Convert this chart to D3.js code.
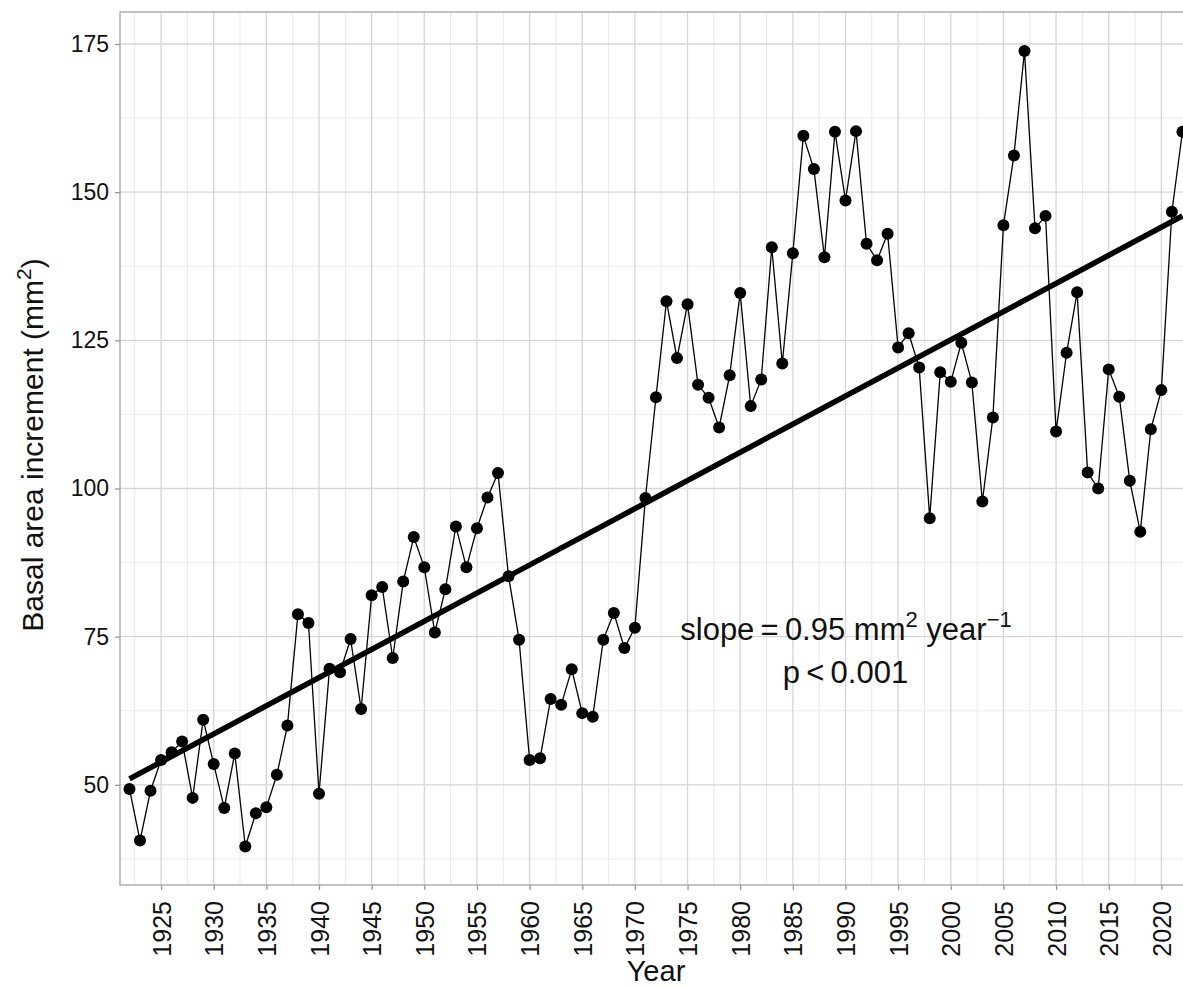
<!DOCTYPE html>
<html>
<head>
<meta charset="utf-8">
<script src="https://cdn.jsdelivr.net/npm/d3@7"></script>
<style>
  body { margin: 0; background: #fff; }
  svg { display: block; font-family: "Liberation Sans", Arial, sans-serif; }
</style>
</head>
<body>
<div id="chart"></div>
<script>
var years = d3.range(1922, 2023);

var bai = [
  49.3, 40.6, 49.0, 54.2, 55.5, 57.3, 47.8, 61.0, 53.5, 46.1,   // 1922-1931
  55.3, 39.6, 45.2, 46.2, 51.7, 60.0, 78.8, 77.3, 48.5, 69.6,   // 1932-1941
  69.0, 74.6, 62.8, 82.0, 83.4, 71.4, 84.3, 91.8, 86.7, 75.7,   // 1942-1951
  83.0, 93.6, 86.7, 93.3, 98.5, 102.6, 85.2, 74.5, 54.2, 54.5,  // 1952-1961
  64.5, 63.5, 69.5, 62.1, 61.5, 74.5, 79.0, 73.1, 76.5, 98.4,   // 1962-1971
  115.4, 131.6, 122.0, 131.1, 117.5, 115.3, 110.3, 119.1, 133.0, 113.9, // 1972-1981
  118.4, 140.7, 121.1, 139.7, 159.5, 153.9, 139.0, 160.2, 148.6, 160.3, // 1982-1991
  141.3, 138.5, 143.0, 123.8, 126.2, 120.4, 95.0, 119.6, 118.0, 124.6,  // 1992-2001
  117.9, 97.8, 112.0, 144.4, 156.2, 173.8, 143.9, 146.0, 109.6, 122.9,  // 2002-2011
  133.1, 102.7, 100.0, 120.1, 115.5, 101.3, 92.7, 110.0, 116.6, 146.7,  // 2012-2021
  160.2                                                                 // 2022
];

// fitted trend (slope 0.95 per year)
var trendYears = [1922, 2022];
var trendValues = [51, 146];

var xTicks = d3.range(1925, 2021, 5);
var yTicks = [50, 75, 100, 125, 150, 175];

var data = years.map(function(yr, i) { return {year: yr, value: bai[i]}; });

var margin = {top: 12, right: 0, bottom: 103, left: 120},
    svgWidth = 1183, svgHeight = 988,
    width = 1074,
    height = svgHeight - margin.top - margin.bottom;

var x = d3.scaleLinear().domain([1921.1, 2023.1]).range([0, width]);
var y = d3.scaleLinear().domain([33.1, 180.4]).range([height, 0]);

var svg = d3.select("#chart").append("svg")
    .attr("width", svgWidth)
    .attr("height", svgHeight);

var g = svg.append("g")
    .attr("transform", "translate(" + margin.left + "," + margin.top + ")");

// minor grid
var xMinor = xTicks.map(function(t) { return t - 2.5; }).concat([2022.5]);
var yMinor = [37.5, 62.5, 87.5, 112.5, 137.5, 162.5];

g.selectAll(".xminor").data(xMinor).enter().append("line")
    .attr("x1", function(d) { return x(d); })
    .attr("x2", function(d) { return x(d); })
    .attr("y1", 0).attr("y2", height)
    .attr("stroke", "#e8e8e8").attr("stroke-width", 1);

g.selectAll(".yminor").data(yMinor).enter().append("line")
    .attr("x1", 0).attr("x2", width)
    .attr("y1", function(d) { return y(d); })
    .attr("y2", function(d) { return y(d); })
    .attr("stroke", "#ececec").attr("stroke-width", 1);

// major grid
g.selectAll(".xmajor").data(xTicks).enter().append("line")
    .attr("x1", function(d) { return x(d); })
    .attr("x2", function(d) { return x(d); })
    .attr("y1", 0).attr("y2", height)
    .attr("stroke", "#d6d6d6").attr("stroke-width", 1.3);

g.selectAll(".ymajor").data(yTicks).enter().append("line")
    .attr("x1", 0).attr("x2", width)
    .attr("y1", function(d) { return y(d); })
    .attr("y2", function(d) { return y(d); })
    .attr("stroke", "#d6d6d6").attr("stroke-width", 1.3);

// panel border
g.append("rect")
    .attr("x", 0).attr("y", 0)
    .attr("width", width).attr("height", height)
    .attr("fill", "none")
    .attr("stroke", "#a8a8a8")
    .attr("stroke-width", 1.4);

// axes
var xAxis = d3.axisBottom(x).tickValues(xTicks).tickSize(5).tickPadding(4).tickFormat(d3.format("d"));
var yAxis = d3.axisLeft(y).tickValues(yTicks).tickSize(5).tickPadding(4);

var gx = g.append("g")
    .attr("transform", "translate(0," + height + ")")
    .call(xAxis);
gx.select(".domain").remove();
gx.selectAll(".tick line").attr("stroke", "#999").attr("stroke-width", 1.3);
gx.selectAll(".tick text")
    .style("font-size", "25px")
    .attr("fill", "#111")
    .attr("transform", "rotate(-90)")
    .attr("text-anchor", "end")
    .attr("x", -16)
    .attr("y", 0)
    .attr("dy", "0.36em");

var gy = g.append("g").call(yAxis);
gy.select(".domain").remove();
gy.selectAll(".tick line").attr("stroke", "#999").attr("stroke-width", 1.3);
gy.selectAll(".tick text")
    .style("font-size", "23px")
    .attr("fill", "#111")
    .attr("x", -11);

// data line and points
var line = d3.line()
    .x(function(d) { return x(d.year); })
    .y(function(d) { return y(d.value); });

g.append("path")
    .datum(data)
    .attr("fill", "none")
    .attr("stroke", "#000")
    .attr("stroke-width", 1.3)
    .attr("d", line);

// trend line
g.append("line")
    .attr("x1", x(trendYears[0])).attr("y1", y(trendValues[0]))
    .attr("x2", x(trendYears[1])).attr("y2", y(trendValues[1]))
    .attr("stroke", "#000")
    .attr("stroke-width", 5.5);

g.selectAll(".pt").data(data).enter().append("circle")
    .attr("cx", function(d) { return x(d.year); })
    .attr("cy", function(d) { return y(d.value); })
    .attr("r", 6)
    .attr("fill", "#000");

// annotation
var ann = g.append("text")
    .attr("x", x(1990.05))
    .attr("y", y(74.5))
    .attr("text-anchor", "middle")
    .style("font-size", "31px")
    .attr("fill", "#111");
ann.append("tspan").text("slope\u2009=\u20090.95 mm");
ann.append("tspan").style("font-size", "22px").attr("dy", -13).text("2");
ann.append("tspan").attr("dy", 13).text(" year");
ann.append("tspan").style("font-size", "22px").attr("dy", -13).text("\u22121");

g.append("text")
    .attr("x", x(1990))
    .attr("y", y(67.2))
    .attr("text-anchor", "middle")
    .style("font-size", "31px")
    .attr("fill", "#111")
    .text("p\u2009<\u20090.001");

// axis titles
svg.append("text")
    .attr("x", 656)
    .attr("y", 981)
    .attr("text-anchor", "middle")
    .style("font-size", "29px")
    .attr("fill", "#111")
    .text("Year");

var yt = svg.append("text")
    .attr("transform", "translate(43,445) rotate(-90)")
    .attr("text-anchor", "middle")
    .style("font-size", "30px")
    .attr("fill", "#111");
yt.append("tspan").text("Basal area increment (mm");
yt.append("tspan").style("font-size", "21px").attr("dy", -12).text("2");
yt.append("tspan").attr("dy", 12).text(")");
</script>
</body>
</html>
